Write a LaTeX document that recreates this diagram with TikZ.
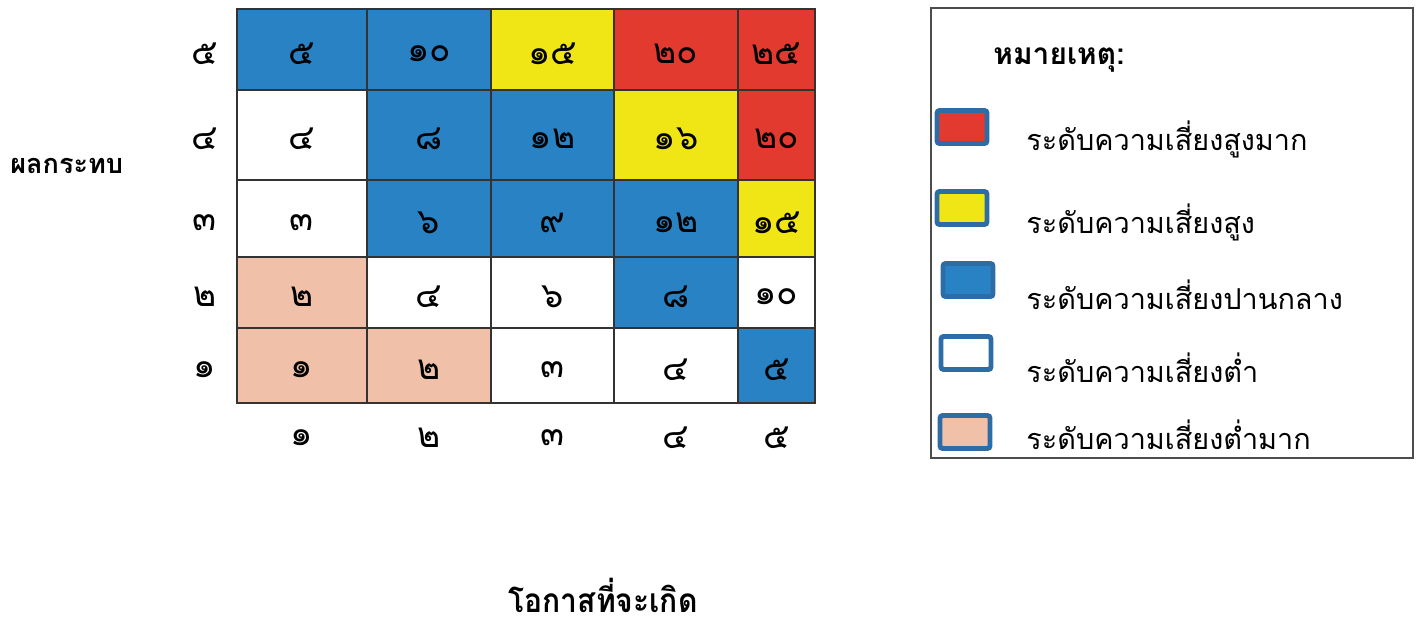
\documentclass[tikz,border=0pt]{standalone}
\usepackage{fontspec}
\newfontfamily\thaifont[Script=Thai]{Loma}
\usetikzlibrary{positioning,calc}
\definecolor{rblue}{RGB}{40,130,196}
\definecolor{rred}{RGB}{226,58,46}
\definecolor{ryellow}{RGB}{240,230,22}
\definecolor{rpink}{RGB}{240,192,168}
\definecolor{rwhite}{RGB}{255,255,255}
\definecolor{swedge}{RGB}{46,108,166}
\tikzset{
  gridline/.style={draw=black!80,line width=0.8pt},
  digit/.style={font=\thaifont\fontsize{20}{22}\selectfont,inner sep=0pt,yshift=-0.08cm},
  keytext/.style={font=\thaifont\fontsize{16.4}{20}\selectfont,anchor=west,inner sep=0pt},
  swatch/.style={draw=swedge,line width=2.8pt,rounded corners=1.5pt,minimum width=1.0cm,minimum height=0.66cm,inner sep=0pt}
}
\begin{document}
\begin{tikzpicture}[x=0.02cm,y=-0.02cm]
\useasboundingbox (0,0) rectangle (1420,629);
% column and row borders of the matrix
\foreach \i/\x in {0/237,1/367,2/491,3/614,4/738,5/815}
  \coordinate (X\i) at (\x,0);
\foreach \i/\y in {0/403,1/328,2/257,3/180,4/90,5/9}
  \coordinate (Y\i) at (0,\y);
% cells: column/row/colour/value
\foreach \c/\r/\f/\v in {1/5/rblue/๕,2/5/rblue/๑๐,3/5/ryellow/๑๕,4/5/rred/๒๐,5/5/rred/๒๕,
    1/4/rwhite/๔,2/4/rblue/๘,3/4/rblue/๑๒,4/4/ryellow/๑๖,5/4/rred/๒๐,
    1/3/rwhite/๓,2/3/rblue/๖,3/3/rblue/๙,4/3/rblue/๑๒,5/3/ryellow/๑๕,
    1/2/rpink/๒,2/2/rwhite/๔,3/2/rwhite/๖,4/2/rblue/๘,5/2/rwhite/๑๐,
    1/1/rpink/๑,2/1/rpink/๒,3/1/rwhite/๓,4/1/rwhite/๔,5/1/rblue/๕}{
  \pgfmathtruncatemacro\cl{\c-1}
  \pgfmathtruncatemacro\rl{\r-1}
  \fill[\f] (X\cl |- Y\rl) rectangle (X\c |- Y\r);
  \node[digit] (n\c\r) at ($(X\cl |- Y\rl)!0.5!(X\c |- Y\r)$) {\v};
}
% grid lines
\foreach \i in {1,...,4}{
  \draw[gridline] (X\i |- Y0) -- (X\i |- Y5);
  \draw[gridline] (X0 |- Y\i) -- (X5 |- Y\i);
}
\draw[gridline] (X0 |- Y0) rectangle (X5 |- Y5);
% axis numbers
\foreach \i/\v in {1/๑,2/๒,3/๓,4/๔,5/๕}{
  \pgfmathtruncatemacro\il{\i-1}
  \node[digit] (row\i) at ($(Y\il)!0.5!(Y\i)+(205,0)$) {\v};
  \node[digit] (col\i) at ($(X\il)!0.5!(X\i)+(0,434)$) {\v};
}
\node[font=\thaifont\bfseries\fontsize{15.4}{18}\selectfont,anchor=west,inner sep=0pt] (impact) at (10,166) {ผลกระทบ};
\node[font=\thaifont\bfseries\fontsize{19}{24}\selectfont,inner sep=0pt,anchor=base] (chance) at (603,612) {\scalebox{0.9}[1]{โอกาสที่จะเกิด}};
% legend
\draw[draw=black!70,line width=0.8pt] (931,8) rectangle (1413,458);
\node[font=\thaifont\bfseries\fontsize{17}{20}\selectfont,anchor=west,inner sep=0pt] (note) at (993,60) {หมายเหตุ:};
\node[swatch,fill=rred] (k1) at (962,127) {};
\node[swatch,fill=ryellow] (k2) at (962,208) {};
\node[swatch,fill=rblue] (k3) at (968,280) {};
\node[swatch,fill=rwhite] (k4) at (966,353) {};
\node[swatch,fill=rpink] (k5) at (965,432) {};
\node[keytext] (t1) at (1026,139) {ระดับความเสี่ยงสูงมาก};
\node[keytext] (t2) at (1026,222) {ระดับความเสี่ยงสูง};
\node[keytext] (t3) at (1026,295) {ระดับความเสี่ยงปานกลาง};
\node[keytext] (t4) at (1026,368) {ระดับความเสี่ยงต่ำ};
\node[keytext] (t5) at (1026,435) {ระดับความเสี่ยงต่ำมาก};
\end{tikzpicture}
\end{document}
